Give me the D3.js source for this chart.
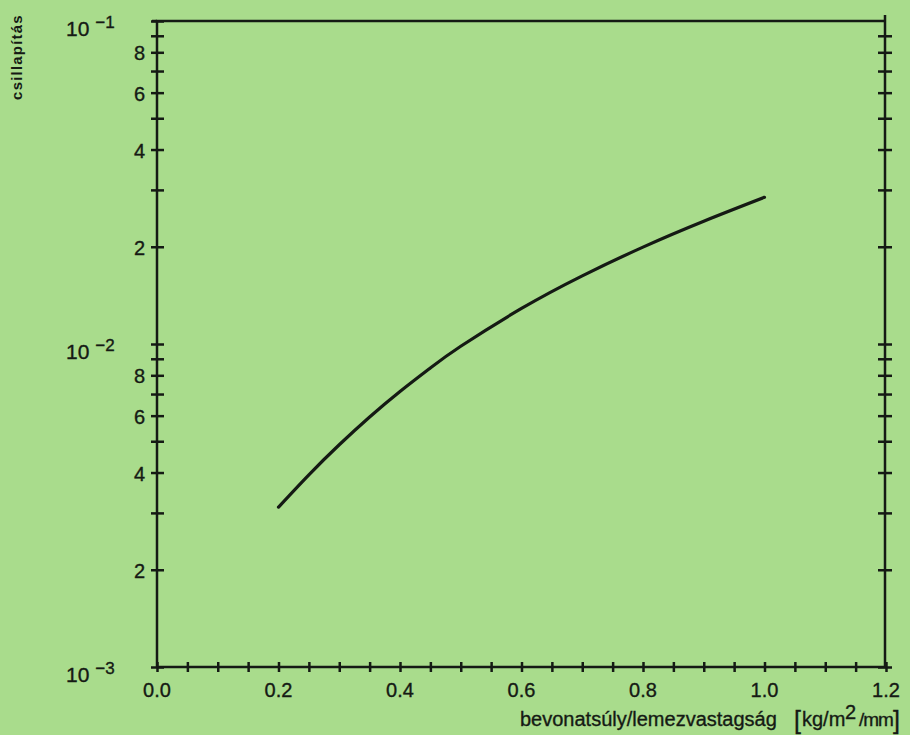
<!DOCTYPE html>
<html>
<head>
<meta charset="utf-8">
<script src="https://cdn.jsdelivr.net/npm/d3@7"></script>
<style>
  body { margin: 0; background: #a9dc8c; }
  svg { display: block; font-family: "Liberation Sans", Arial, sans-serif; }
  text { stroke: #151a14; stroke-width: 0.35px; }
</style>
</head>
<body>
<script>
// curve
var thickness = [0.2, 0.25, 0.3, 0.35, 0.4, 0.45, 0.5, 0.6, 0.7, 0.8, 0.9, 1.0];
var damping = [0.003126, 0.003936, 0.004875, 0.005943, 0.007129, 0.008433, 0.009840, 0.012882, 0.016255, 0.019953, 0.023988, 0.028445];

var xLabels = ["0.0", "0.2", "0.4", "0.6", "0.8", "1.0", "1.2"];
var decades = [1e-3, 1e-2, 1e-1];
var decadeExp = ["\u22123", "\u22122", "\u22121"];
var minorLabels = [2, 4, 6, 8];

var width = 910, height = 735,
    plotLeft = 157, plotRight = 886, plotTop = 21, plotBottom = 667;

var x = d3.scaleLinear().domain([0, 1.2]).range([plotLeft, plotRight]);
var y = d3.scaleLog().domain([1e-3, 1e-1]).range([plotBottom, plotTop]);

var svg = d3.select("body").append("svg")
  .attr("width", width)
  .attr("height", height);

var ink = "#151a14";

// y tick values: 1..9 for each decade
var yTicks = [];
decades.forEach(function (d, i) {
  if (i < decades.length - 1) {
    for (var k = 1; k < 10; k++) yTicks.push(d * k);
  } else {
    yTicks.push(d);
  }
});
var xTicks = d3.range(0, 25).map(function (i) { return i * 0.05; });

// left axis
var gl = svg.append("g")
  .attr("transform", "translate(" + plotLeft + ",0)")
  .call(d3.axisLeft(y).tickValues(yTicks).tickSize(6).tickFormat(""));
gl.selectAll(".tick line").attr("x1", 7);

// right axis
var gr = svg.append("g")
  .attr("transform", "translate(" + (plotRight - 1) + ",0)")
  .call(d3.axisRight(y).tickValues(yTicks.filter(function (d) { return d < 0.099; })).tickSize(7).tickFormat(""));
gr.selectAll(".tick line").attr("x1", -7);

// bottom axis
var gb = svg.append("g")
  .attr("transform", "translate(0," + plotBottom + ")")
  .call(d3.axisBottom(x).tickValues(xTicks).tickSize(5).tickFormat(""));
gb.selectAll(".tick line").attr("y1", -5);

svg.selectAll(".domain").remove();
svg.selectAll(".tick line").attr("stroke", ink).attr("stroke-width", 2.5);

// frame
svg.append("path")
  .attr("d", "M" + plotLeft + "," + plotBottom + "V" + plotTop + "H" + (plotRight - 1) + "V" + plotBottom + "H" + plotLeft
       + "M" + (plotRight - 1) + "," + (plotTop - 6) + "V" + plotTop)
  .attr("fill", "none")
  .attr("stroke", ink)
  .attr("stroke-width", 2.5);
svg.append("line")
  .attr("x1", plotLeft - 5).attr("x2", plotLeft)
  .attr("y1", plotTop).attr("y2", plotTop)
  .attr("stroke", ink).attr("stroke-width", 2.5);

// x labels
svg.selectAll(".xlab")
  .data(xLabels)
  .enter().append("text")
  .attr("x", function (d) { return x(+d); })
  .attr("y", plotBottom + 30)
  .attr("text-anchor", "middle")
  .attr("font-size", 20)
  .attr("fill", ink)
  .text(function (d) { return d; });

// y minor labels
var minorVals = [];
decades.slice(0, 2).forEach(function (d) {
  minorLabels.forEach(function (m) { minorVals.push({ v: d * m, t: m }); });
});
svg.selectAll(".ylab")
  .data(minorVals)
  .enter().append("text")
  .attr("x", plotLeft - 12)
  .attr("y", function (d) { return y(d.v) + 8; })
  .attr("text-anchor", "end")
  .attr("font-size", 20)
  .attr("fill", ink)
  .text(function (d) { return d.t; });

// decade labels
var dec = svg.selectAll(".dlab")
  .data(decades)
  .enter().append("text")
  .attr("x", 66)
  .attr("y", function (d) { return y(d) + 15; })
  .attr("font-size", 21)
  .attr("fill", ink);
dec.append("tspan").text("10");
dec.append("tspan")
  .attr("dx", 6)
  .attr("dy", -8)
  .attr("font-size", 17)
  .text(function (d, i) { return decadeExp[i]; });

// axis titles
svg.append("text")
  .attr("transform", "translate(22,57) rotate(-90)")
  .attr("text-anchor", "middle")
  .attr("font-size", 15)
  .attr("font-weight", "bold")
  .attr("letter-spacing", 1.2)
  .attr("fill", ink)
  .style("stroke-width", 0)
  .text("csillapítás");

var xt = svg.append("text")
  .attr("x", 520)
  .attr("y", 726)
  .attr("font-size", 20)
  .attr("fill", ink);
xt.append("tspan").text("bevonatsúly/lemezvastagság");
xt.append("tspan").attr("x", 794).attr("font-size", 25).attr("dy", 3).text("[");
xt.append("tspan").attr("x", 802).attr("font-size", 20).attr("dy", -3).text("kg/m");
xt.append("tspan").attr("x", 845).attr("font-size", 20).attr("dy", -7).text("2");
xt.append("tspan").attr("x", 859).attr("font-size", 19).attr("dy", 7).attr("letter-spacing", -1).text("/mm");
xt.append("tspan").attr("x", 893).attr("font-size", 25).attr("dy", 3).text("]");

// curve
var line = d3.line()
  .x(function (d, i) { return x(thickness[i]); })
  .y(function (d) { return y(d); })
  .curve(d3.curveNatural);

svg.append("path")
  .datum(damping)
  .attr("d", line)
  .attr("fill", "none")
  .attr("stroke", ink)
  .attr("stroke-width", 3.2)
  .attr("stroke-linecap", "round");
</script>
</body>
</html>
